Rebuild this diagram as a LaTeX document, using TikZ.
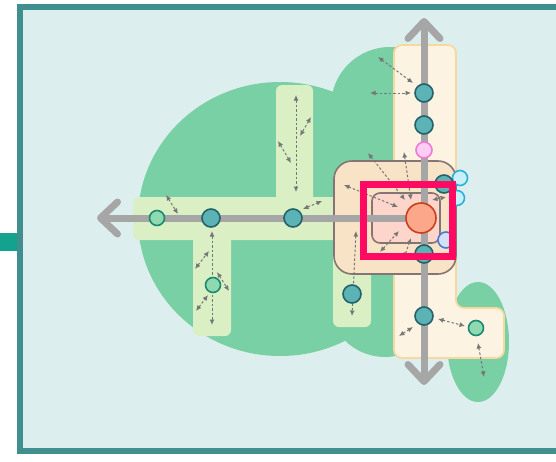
\documentclass[tikz,border=0pt]{standalone}
\usepackage{tikz}
\usetikzlibrary{arrows.meta}
\definecolor{bgPane}{HTML}{DCEFEE}
\definecolor{frameB}{HTML}{3F8F8F}
\definecolor{tabFill}{HTML}{12A28E}
\definecolor{zoneFill}{HTML}{78D0A4}
\definecolor{laneFill}{HTML}{DBEFC4}
\definecolor{mainFill}{HTML}{FDF3E2}
\definecolor{mainB}{HTML}{F7D9A0}
\definecolor{hubFill}{HTML}{F9E3C6}
\definecolor{hubB}{HTML}{857474}
\definecolor{coreFill}{HTML}{FDD5CA}
\definecolor{axisGray}{HTML}{A6A6A6}
\definecolor{moveGray}{HTML}{767676}
\definecolor{tealFill}{HTML}{5BB3B5}
\definecolor{tealB}{HTML}{24626A}
\definecolor{mintFill}{HTML}{8FD9B0}
\definecolor{mintB}{HTML}{1A8A70}
\definecolor{pinkFill}{HTML}{FFCCF4}
\definecolor{pinkB}{HTML}{EE7AD6}
\definecolor{cyanFill}{HTML}{C8F0FA}
\definecolor{cyanB}{HTML}{2BB0D8}
\definecolor{blueFill}{HTML}{D5E0F5}
\definecolor{blueB}{HTML}{4C78D0}
\definecolor{focusFill}{HTML}{FCA68A}
\definecolor{focusB}{HTML}{C8401E}
\definecolor{selB}{HTML}{FF0A62}

\begin{document}
\begin{tikzpicture}[x=1pt,y=-1pt,dot/.style={circle, inner sep=0pt, line width=1.6pt},tdot/.style={dot, minimum size=18pt, fill=tealFill, draw=tealB},mdot/.style={dot, minimum size=15pt, fill=mintFill, draw=mintB},lane/.style={fill=laneFill, rounded corners=6pt},move/.style={draw=moveGray, line width=1pt, dash pattern=on 2.5pt off 2pt, {Latex[length=5.5pt,width=5pt]}-{Latex[length=5.5pt,width=5pt]}},axis/.style={draw=axisGray, line width=7pt},barb/.tip={Straight Barb[length=17pt,width=32pt,round]}]
\useasboundingbox (0,0) rectangle (556,461);
\fill[tabFill] (0,233) rectangle (17,251);
\filldraw[fill=bgPane, draw=frameB, line width=6pt] (20,7) rectangle (590,451);
% green zones
\fill[zoneFill] (280,219) ellipse [x radius=142, y radius=137];
\fill[zoneFill] (390,106) circle [radius=59];
\fill[zoneFill] (385,300) circle [radius=57];
\fill[zoneFill] (478,342) ellipse [x radius=31, y radius=60];
% lanes
\fill[lane] (133,197) rectangle (370,240);
\fill[lane] (276,85) rectangle (313,215);
\fill[lane] (193,225) rectangle (231,336);
\fill[lane] (333,225) rectangle (371,327);
\filldraw[fill=mainFill, draw=mainB, line width=1.8pt, rounded corners=8pt] (394,45) -- (456,45) -- (456,308) -- (504,308) -- (504,358) -- (394,358) -- cycle;
\filldraw[fill=hubFill, draw=hubB, line width=1.6pt, rounded corners=18pt] (334,161) rectangle (456,274);
\filldraw[fill=coreFill, draw=hubB, line width=1.6pt, rounded corners=8pt] (372,193) rectangle (440,243);
% axes
\coordinate (focusC) at (421,218);
\coordinate (westTip) at (97,218);
\coordinate (northTip) at (424,18);
\coordinate (southTip) at (424,385);
\draw[axis, -{barb}] (focusC) -- (westTip);
\draw[axis, {barb}-{barb}] (southTip) -- (northTip);
% movement hints
\foreach \xa/\ya/\xb/\yb in {166/195/178/214, 296/95/296/192, 311/117/300/136, 278/141/291/163, 303/209/322/201, 212/231/212/325, 195/269/209/251, 217/272/229/291, 196/311/208/295, 378/57/413/83, 370/93/411/93, 368/153/405/200, 404/152/411/200, 344/185/398/207, 432/200/446/197, 356/231/352/316, 380/252/399/231, 404/258/411/238, 399/336/413/327, 438/319/465/326, 478/343/484/377}
  \draw[move] (\xa,\ya) -- (\xb,\yb);
% stops
\node[mdot] (w1) at (157,218) {};
\node[tdot] (w2) at (211,218) {};
\node[tdot] (w3) at (293,218) {};
\node[mdot] (sw) at (213,285) {};
\node[tdot] (n1) at (424,93) {};
\node[tdot] (n2) at (424,125) {};
\node[dot, minimum size=16pt, fill=pinkFill, draw=pinkB] (n3) at (424,150) {};
\node[dot, minimum size=15pt, fill=cyanFill, draw=cyanB] (c1) at (460,178) {};
\node[dot, minimum size=15pt, fill=cyanFill, draw=cyanB] (c2) at (457,198) {};
\node[tdot] (e1) at (444,184) {};
\node[dot, minimum size=16pt, fill=blueFill, draw=blueB] (b1) at (446,240) {};
\node[tdot] (s1) at (424,254) {};
\node[tdot] (s2) at (352,294) {};
\node[tdot] (s3) at (424,316) {};
\node[mdot] (se) at (476,328) {};
\node[dot, minimum size=30pt, fill=focusFill, draw=focusB] (focus) at (focusC) {};
% selection
\draw[selB, line width=7pt] (363.5,184.5) rectangle (452.5,256.5);
\end{tikzpicture}
\end{document}
